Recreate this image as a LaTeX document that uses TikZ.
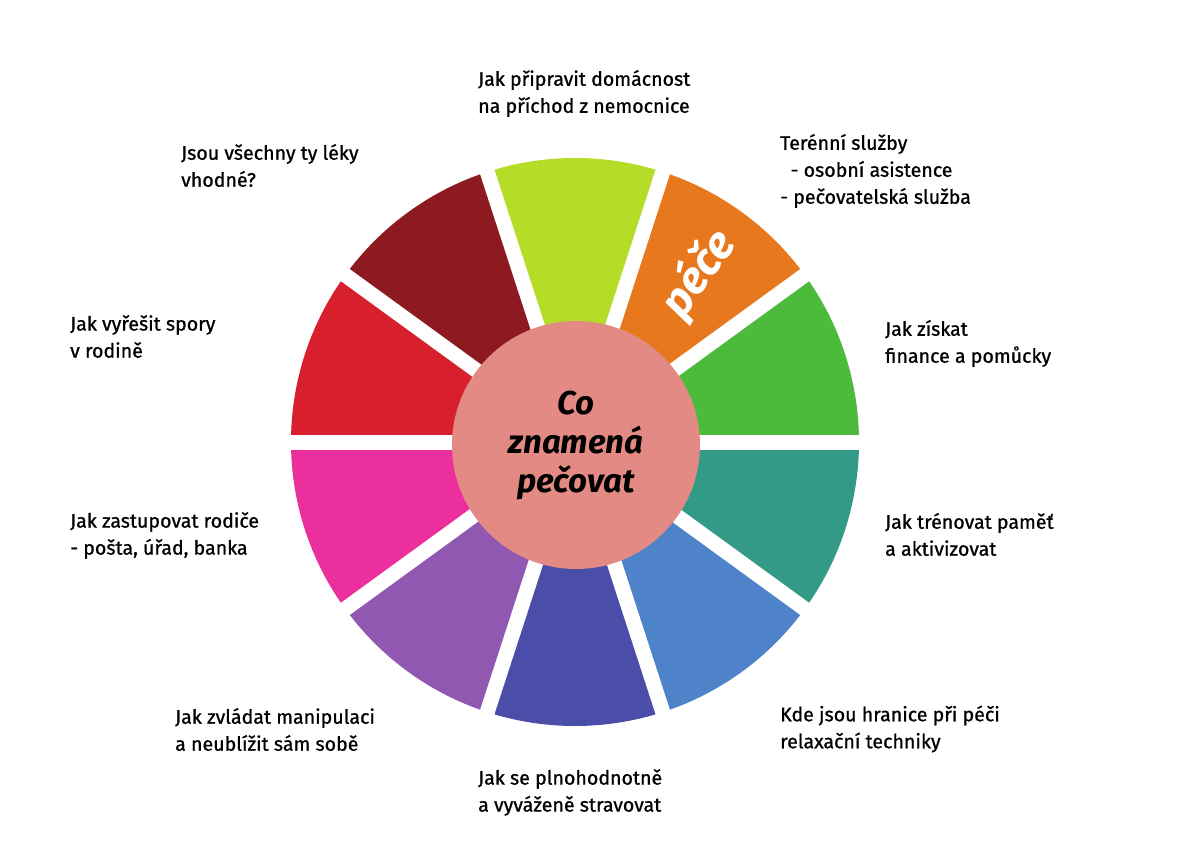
\documentclass[tikz,border=0pt]{standalone}
\usepackage{fontspec}
\setmainfont{Fira Sans}
\newfontfamily\labfont{Fira Sans}[FakeBold=0.9]
\definecolor{sgreen}{HTML}{4CBB3B}
\definecolor{sorange}{HTML}{E8781E}
\definecolor{slime}{HTML}{B5DC26}
\definecolor{sdarkred}{HTML}{8C1A20}
\definecolor{sred}{HTML}{D81F2E}
\definecolor{smagenta}{HTML}{EB2F9C}
\definecolor{spurple}{HTML}{9058B0}
\definecolor{sindigo}{HTML}{4A4EA8}
\definecolor{sblue}{HTML}{4E82C9}
\definecolor{steal}{HTML}{349A88}
\definecolor{hubcol}{HTML}{E38A84}
\begin{document}
\begin{tikzpicture}[x=1pt,y=-1pt,
  label/.style={anchor=west, align=left, inner sep=0pt, text=black,
    font=\labfont\fontsize{19.6}{27}\selectfont},
  hubtext/.style={align=center, font=\fontsize{33}{39}\selectfont\bfseries\itshape}]
\useasboundingbox (0,0) rectangle (1200,848);
\coordinate (C) at (575,442);
% segments: screen angle k*36 .. (k+1)*36
\foreach \k/\col in {0/sgreen,1/sorange,2/slime,3/sdarkred,4/sred,5/smagenta,6/spurple,7/sindigo,8/sblue,9/steal}{
  \pgfmathsetmacro{\a}{-36*\k}
  \pgfmathsetmacro{\b}{-36*(\k+1)}
  \fill[\col] (C) -- ++(\a:284) arc[start angle=\a, end angle=\b, radius=284] -- cycle;
}
% white gaps
\foreach \k in {0,...,9}{
  \draw[white, line width=15pt] (C) -- ++(-36*\k:300);
}
% hub
\node[circle, fill=hubcol, minimum size=248pt, inner sep=0pt] (hub) at (576,445) {};
\node[hubtext] (hubt) at (576,445) {Co\\znamená\\pečovat};
% pece
\node[rotate=54, text=white, font=\fontsize{45}{45}\selectfont\bfseries\itshape] (pece) at (699,274) {péče};
% labels
\node[label] (lA) at (478,93.5) {Jak připravit domácnost\\na příchod z nemocnice};
\node[label] (lB) at (780,171) {Terénní služby\\\ \ - osobní asistence\\- pečovatelská služba};
\node[label] (lC) at (181,165.5) {Jsou všechny ty léky\\vhodné?};
\node[label] (lD) at (70,336.5) {Jak vyřešit spory\\v rodině};
\node[label] (lE) at (885,343.5) {Jak získat\\finance a pomůcky};
\node[label] (lF) at (70,535.5) {Jak zastupovat rodiče\\- pošta, úřad, banka};
\node[label] (lG) at (885,534.5) {Jak trénovat paměť\\a aktivizovat};
\node[label] (lH) at (175,729.5) {Jak zvládat manipulaci\\a neublížit sám sobě};
\node[label] (lI) at (780,729) {Kde jsou hranice při péči\\relaxační techniky};
\node[label] (lJ) at (478,792.5) {Jak se plnohodnotně\\a vyváženě stravovat};
\end{tikzpicture}
\end{document}
